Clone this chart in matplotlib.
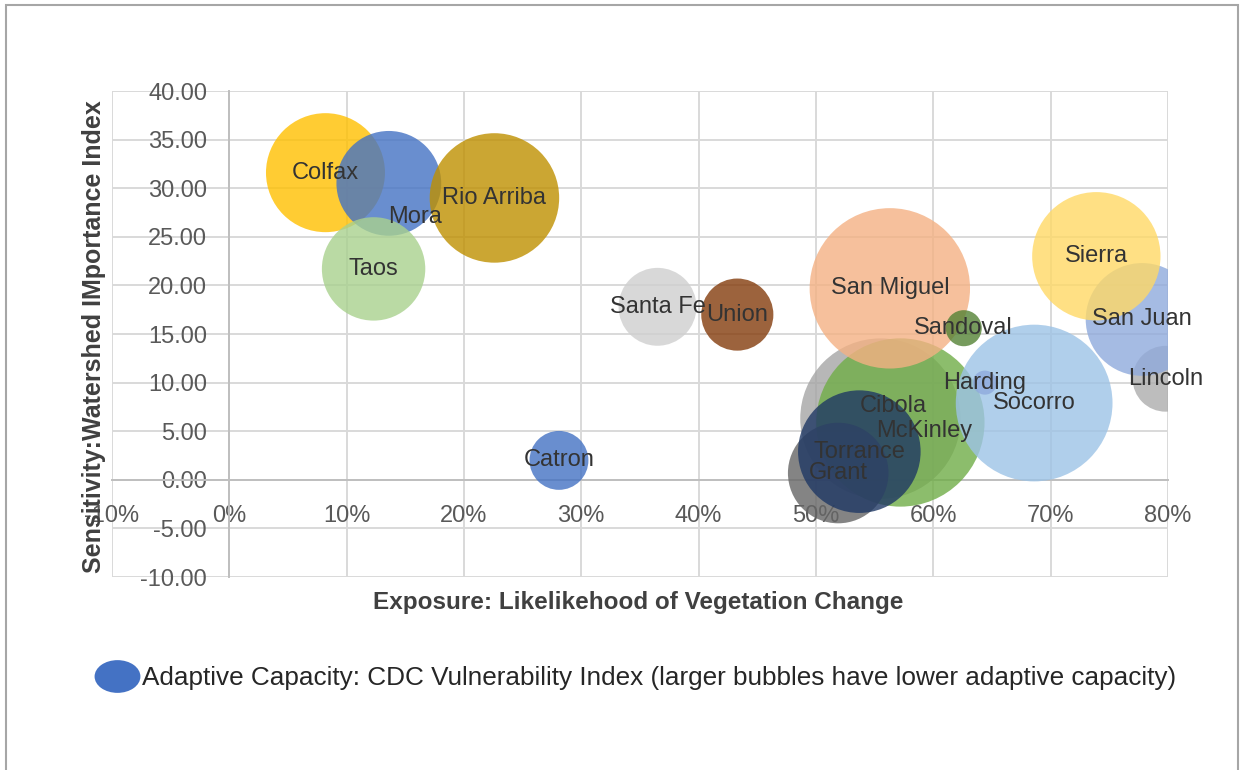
import numpy as np
import matplotlib
matplotlib.use("Agg")
import matplotlib.pyplot as plt
from matplotlib.patches import Rectangle
from matplotlib.path import Path
from matplotlib.transforms import Affine2D
from matplotlib.ticker import FuncFormatter, MultipleLocator
from matplotlib.lines import Line2D

plt.rcParams['font.family'] = ['Liberation Sans', 'DejaVu Sans']

# county data: exposure (fraction), sensitivity index, vulnerability (bubble size)
counties = ['Colfax', 'Mora', 'Taos', 'Rio Arriba', 'Catron', 'Santa Fe', 'Union',
            'Cibola', 'McKinley', 'San Miguel', 'Grant', 'Torrance', 'Socorro',
            'Harding', 'Sandoval', 'Lincoln', 'San Juan', 'Sierra']
exposure = [0.082, 0.136, 0.123, 0.226, 0.281, 0.365, 0.433,
            0.555, 0.572, 0.563, 0.519, 0.537, 0.686,
            0.644, 0.626, 0.798, 0.778, 0.739]
sensitivity = [31.6, 30.5, 21.7, 29.0, 2.0, 17.8, 17.0,
               6.3, 5.9, 19.7, 0.7, 2.9, 7.9,
               10.0, 15.6, 10.4, 16.5, 23.0]
vulnerability = [0.49, 0.38, 0.37, 0.58, 0.12, 0.21, 0.18,
                 0.89, 0.98, 0.89, 0.35, 0.52, 0.85,
                 0.02, 0.045, 0.15, 0.44, 0.57]

colors = ['#FFC000', '#4472C4', '#A9D18E', '#BF9000', '#4472C4', '#CFCFCF', '#843C0C',
          '#A5A5A5', '#70AD47', '#F4B183', '#666666', '#1F3864', '#9DC3E6',
          '#8FAADC', '#548235', '#ADADAD', '#8FAADC', '#FFD966']
# label nudges (points) for labels that were moved off the bubble centre
label_nudge = {'Mora': (19, -24), 'McKinley': (17, -6), 'Cibola': (9, 9)}

DPI = 100
fig = plt.figure(figsize=(12.41, 7.70), dpi=DPI)
ax = fig.add_axes([0.0902, 0.2506, 0.8509, 0.6312])

# bubble area proportional to vulnerability; largest about 170 px across
diam_pt = 170 * np.sqrt(np.array(vulnerability)) * 72 / DPI
for i in range(len(counties)):
    ax.scatter(exposure[i], sensitivity[i], s=diam_pt[i] ** 2, color=colors[i],
               alpha=0.8, edgecolors='none', zorder=3)

for name, xv, yv in zip(counties, exposure, sensitivity):
    dx, dy = label_nudge.get(name, (0, 0))
    ax.annotate(name, (xv, yv), xytext=(dx, dy), textcoords='offset points',
                ha='center', va='center', fontsize=17, color='#333333', zorder=5)

ax.set_xlim(-0.10, 0.80)
ax.set_ylim(-10, 40)
ax.xaxis.set_major_locator(MultipleLocator(0.10))
ax.yaxis.set_major_locator(MultipleLocator(5))
ax.xaxis.set_major_formatter(FuncFormatter(lambda v, p: f'{v * 100:.0f}%'))
ax.yaxis.set_major_formatter(FuncFormatter(lambda v, p: f'{v:.2f}'))
ax.grid(True, color='#D9D9D9', linewidth=1.4, zorder=0)
ax.set_axisbelow(True)

# axes cross at zero like the Excel chart
ax.spines['left'].set_position(('data', 0))
ax.spines['bottom'].set_position(('data', 0))
ax.spines['top'].set_visible(False)
ax.spines['right'].set_visible(False)
for sp in ['left', 'bottom']:
    ax.spines[sp].set_color('#BFBFBF')
    ax.spines[sp].set_linewidth(1.4)
    ax.spines[sp].set_zorder(1)
ax.tick_params(axis='both', length=0, labelsize=17, labelcolor='#595959')
ax.tick_params(axis='x', pad=18)
ax.tick_params(axis='y', pad=16)

fig.text(94 / 1241, 1 - 337 / 770, 'Sensitivity:Watershed IMportance Index',
         rotation=90, ha='center', va='center', fontsize=18, fontweight='bold',
         color='#404040')
fig.text(638 / 1241, 1 - 602 / 770, 'Exposure: Likelikehood of Vegetation Change',
         ha='center', va='center', fontsize=17.5, fontweight='bold', color='#404040')

# legend with an oval marker
oval = Path.unit_circle().transformed(Affine2D().scale(1.4, 1.0))
handle = Line2D([], [], linestyle='none', marker=oval, markersize=33,
                markerfacecolor='#4472C4', markeredgecolor='none')
fig.legend([handle], ['Adaptive Capacity: CDC Vulnerability Index (larger bubbles have lower adaptive capacity)'],
           loc='center left', bbox_to_anchor=(75 / 1241, 1 - 678 / 770), frameon=False,
           fontsize=18.8, handlelength=1.4, handletextpad=0.25, labelcolor='#262626')

# outer frame
fig.patches.append(Rectangle((6 / 1241, -0.01), (1238 - 6) / 1241, 1 - 5 / 770 + 0.01,
                             transform=fig.transFigure, fill=False,
                             edgecolor='#A6A6A6', linewidth=1.5))

fig.savefig('out.png', dpi=DPI, facecolor='white')
